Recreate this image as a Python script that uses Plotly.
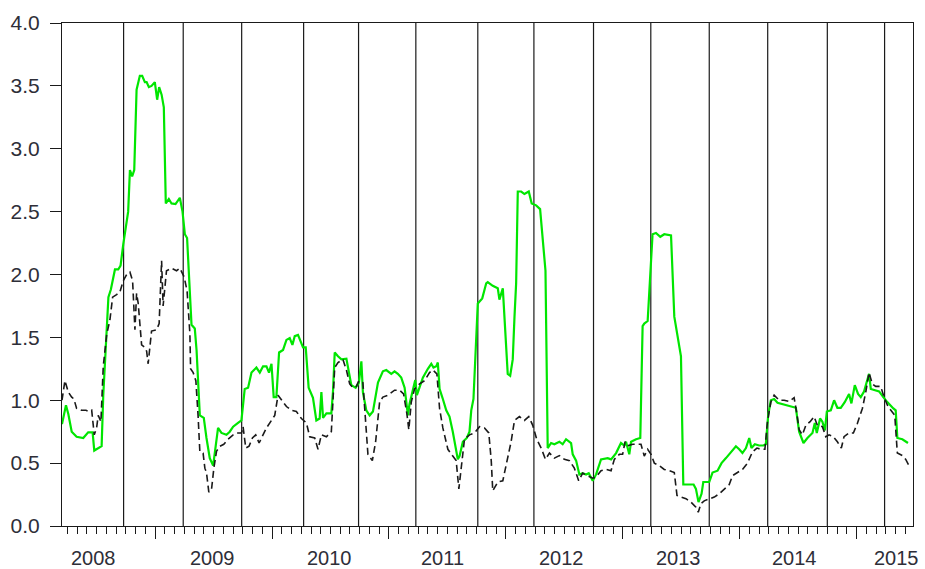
import plotly.graph_objects as go

# Time stamps (decimal years) and values of the two series
green_t = [2008.203, 2008.237, 2008.257, 2008.286, 2008.328, 2008.385, 2008.427, 2008.465, 2008.479, 2008.513,
           2008.542, 2008.556, 2008.570, 2008.587, 2008.600, 2008.621, 2008.656, 2008.684, 2008.704, 2008.727,
           2008.769, 2008.784, 2008.803, 2008.821, 2008.841, 2008.869, 2008.889, 2008.912, 2008.927, 2008.946,
           2008.969, 2008.997, 2009.017, 2009.034, 2009.055, 2009.074, 2009.091, 2009.117, 2009.140, 2009.174,
           2009.211, 2009.234, 2009.254, 2009.273, 2009.297, 2009.311, 2009.339, 2009.354, 2009.382, 2009.416,
           2009.439, 2009.467, 2009.496, 2009.519, 2009.538, 2009.567, 2009.610, 2009.638, 2009.667, 2009.709,
           2009.738, 2009.766, 2009.795, 2009.824, 2009.866, 2009.895, 2009.923, 2009.952, 2009.974, 2009.995,
           2010.014, 2010.037, 2010.060, 2010.094, 2010.123, 2010.151, 2010.174, 2010.194, 2010.222, 2010.265,
           2010.288, 2010.313, 2010.350, 2010.379, 2010.407, 2010.422, 2010.436, 2010.465, 2010.507, 2010.521,
           2010.536, 2010.564, 2010.593, 2010.636, 2010.658, 2010.678, 2010.715, 2010.743, 2010.764, 2010.777,
           2010.806, 2010.835, 2010.863, 2010.906, 2010.948, 2010.977, 2011.020, 2011.048, 2011.076, 2011.105,
           2011.134, 2011.162, 2011.176, 2011.205, 2011.225, 2011.239, 2011.262, 2011.290, 2011.333, 2011.362,
           2011.381, 2011.405, 2011.418, 2011.433, 2011.461, 2011.490, 2011.518, 2011.546, 2011.589, 2011.604,
           2011.632, 2011.666, 2011.689, 2011.704, 2011.723, 2011.746, 2011.760, 2011.798, 2011.832, 2011.845,
           2011.888, 2011.931, 2011.945, 2011.974, 2011.988, 2012.003, 2012.016, 2012.037, 2012.059, 2012.074,
           2012.088, 2012.102, 2012.131, 2012.159, 2012.196, 2012.221, 2012.259, 2012.293, 2012.315, 2012.339,
           2012.358, 2012.387, 2012.415, 2012.458, 2012.486, 2012.515, 2012.558, 2012.572, 2012.601, 2012.629,
           2012.657, 2012.686, 2012.709, 2012.743, 2012.772, 2012.814, 2012.871, 2012.900, 2012.943, 2012.985,
           2013.014, 2013.028, 2013.056, 2013.071, 2013.114, 2013.150, 2013.170, 2013.184, 2013.213, 2013.255,
           2013.284, 2013.321, 2013.355, 2013.413, 2013.441, 2013.469, 2013.498, 2013.518, 2013.569, 2013.606,
           2013.626, 2013.648, 2013.674, 2013.689, 2013.740, 2013.768, 2013.811, 2013.845, 2013.883, 2013.919,
           2013.968, 2013.996, 2014.024, 2014.054, 2014.082, 2014.101, 2014.130, 2014.167, 2014.204, 2014.224,
           2014.244, 2014.267, 2014.295, 2014.324, 2014.381, 2014.452, 2014.481, 2014.509, 2014.546, 2014.580,
           2014.623, 2014.643, 2014.660, 2014.688, 2014.708, 2014.729, 2014.746, 2014.780, 2014.808, 2014.836,
           2014.865, 2014.899, 2014.936, 2014.956, 2014.985, 2015.013, 2015.036, 2015.064, 2015.087, 2015.107,
           2015.122, 2015.164, 2015.193, 2015.229, 2015.263, 2015.315, 2015.335, 2015.349, 2015.392, 2015.440]

green_v = [0.81, 0.96, 0.89, 0.75, 0.71, 0.70, 0.745, 0.745, 0.60, 0.62,
           0.635, 1.04, 1.30, 1.62, 1.82, 1.88, 2.04, 2.04, 2.07, 2.24,
           2.50, 2.83, 2.78, 2.83, 3.47, 3.58, 3.58, 3.53, 3.53, 3.49,
           3.50, 3.53, 3.39, 3.49, 3.43, 3.33, 2.565, 2.60, 2.565, 2.56,
           2.61, 2.50, 2.32, 2.29, 1.87, 1.60, 1.57, 1.40, 0.88, 0.86,
           0.70, 0.54, 0.48, 0.65, 0.78, 0.74, 0.725, 0.75, 0.79, 0.82,
           0.84, 1.09, 1.10, 1.22, 1.26, 1.22, 1.27, 1.27, 1.22, 1.29,
           1.025, 1.025, 1.38, 1.40, 1.48, 1.495, 1.44, 1.51, 1.52, 1.42,
           1.42, 1.10, 1.02, 0.84, 0.855, 1.065, 0.86, 0.895, 0.895, 1.065,
           1.38, 1.35, 1.325, 1.33, 1.22, 1.12, 1.10, 1.14, 1.31, 1.065,
           0.92, 0.88, 0.91, 1.14, 1.23, 1.24, 1.21, 1.23, 1.21, 1.18,
           1.10, 0.88, 0.97, 1.09, 1.16, 1.04, 1.10, 1.18, 1.25, 1.29,
           1.26, 1.27, 1.30, 1.09, 1.01, 0.92, 0.87, 0.75, 0.53, 0.556,
           0.67, 0.70, 0.75, 0.92, 1.01, 1.53, 1.77, 1.81, 1.93, 1.94,
           1.91, 1.89, 1.80, 1.89, 1.665, 1.325, 1.21, 1.195, 1.325, 1.665,
           1.93, 2.66, 2.66, 2.64, 2.66, 2.565, 2.55, 2.52, 2.29, 2.03,
           0.62, 0.66, 0.65, 0.67, 0.65, 0.69, 0.66, 0.57, 0.52, 0.41,
           0.42, 0.41, 0.42, 0.36, 0.41, 0.53, 0.54, 0.53, 0.58, 0.66,
           0.64, 0.67, 0.57, 0.67, 0.69, 0.70, 1.59, 1.61, 1.63, 2.32,
           2.33, 2.30, 2.32, 2.31, 1.665, 1.51, 1.35, 0.33, 0.33, 0.33,
           0.295, 0.19, 0.256, 0.35, 0.35, 0.425, 0.44, 0.50, 0.54, 0.58,
           0.634, 0.61, 0.58, 0.62, 0.70, 0.62, 0.65, 0.64, 0.64, 0.65,
           0.88, 1.00, 1.01, 0.98, 0.965, 0.95, 0.94, 0.75, 0.66, 0.70,
           0.74, 0.82, 0.74, 0.855, 0.83, 0.76, 0.91, 0.92, 1.00, 0.94,
           0.94, 0.985, 1.05, 0.975, 1.12, 1.05, 1.025, 1.07, 1.155, 1.21,
           1.09, 1.08, 1.07, 1.025, 0.985, 0.935, 0.92, 0.70, 0.69, 0.66]

black_t = [2008.203, 2008.228, 2008.257, 2008.286, 2008.305, 2008.328, 2008.371, 2008.408, 2008.436, 2008.457,
           2008.479, 2008.499, 2008.513, 2008.536, 2008.556, 2008.585, 2008.613, 2008.636, 2008.670, 2008.698,
           2008.727, 2008.756, 2008.784, 2008.807, 2008.827, 2008.841, 2008.855, 2008.884, 2008.912, 2008.927,
           2008.940, 2008.969, 2009.012, 2009.034, 2009.055, 2009.068, 2009.097, 2009.140, 2009.183, 2009.211,
           2009.248, 2009.273, 2009.297, 2009.303, 2009.325, 2009.348, 2009.367, 2009.382, 2009.410, 2009.425,
           2009.439, 2009.459, 2009.482, 2009.502, 2009.525, 2009.553, 2009.587, 2009.624, 2009.667, 2009.701,
           2009.738, 2009.752, 2009.775, 2009.803, 2009.832, 2009.860, 2009.889, 2009.923, 2009.952, 2009.995,
           2010.023, 2010.051, 2010.080, 2010.123, 2010.166, 2010.208, 2010.251, 2010.294, 2010.322, 2010.365,
           2010.393, 2010.422, 2010.465, 2010.507, 2010.536, 2010.564, 2010.606, 2010.636, 2010.664, 2010.692,
           2010.721, 2010.743, 2010.777, 2010.792, 2010.820, 2010.858, 2010.886, 2010.920, 2010.948, 2010.991,
           2011.048, 2011.091, 2011.125, 2011.153, 2011.170, 2011.191, 2011.219, 2011.262, 2011.305, 2011.347,
           2011.376, 2011.410, 2011.433, 2011.461, 2011.504, 2011.546, 2011.575, 2011.598, 2011.618, 2011.646,
           2011.689, 2011.732, 2011.775, 2011.817, 2011.854, 2011.875, 2011.888, 2011.931, 2011.974, 2012.016,
           2012.045, 2012.074, 2012.116, 2012.159, 2012.196, 2012.230, 2012.264, 2012.302, 2012.339, 2012.373,
           2012.415, 2012.458, 2012.501, 2012.544, 2012.586, 2012.623, 2012.657, 2012.700, 2012.743, 2012.772,
           2012.814, 2012.857, 2012.900, 2012.928, 2012.971, 2012.999, 2013.020, 2013.048, 2013.085, 2013.127,
           2013.156, 2013.184, 2013.213, 2013.242, 2013.270, 2013.313, 2013.355, 2013.398, 2013.441, 2013.464,
           2013.498, 2013.541, 2013.584, 2013.626, 2013.646, 2013.669, 2013.697, 2013.740, 2013.783, 2013.825,
           2013.868, 2013.911, 2013.939, 2013.982, 2014.024, 2014.067, 2014.110, 2014.148, 2014.182, 2014.216,
           2014.238, 2014.267, 2014.295, 2014.338, 2014.381, 2014.424, 2014.466, 2014.489, 2014.509, 2014.537,
           2014.566, 2014.603, 2014.637, 2014.665, 2014.708, 2014.737, 2014.765, 2014.802, 2014.836, 2014.870,
           2014.893, 2014.936, 2014.973, 2015.007, 2015.050, 2015.079, 2015.107, 2015.135, 2015.164, 2015.207,
           2015.235, 2015.269, 2015.298, 2015.327, 2015.349, 2015.392, 2015.421, 2015.449]

black_v = [1.00, 1.156, 1.065, 1.025, 1.01, 0.935, 0.92, 0.92, 0.91, 0.92,
           0.725, 0.78, 0.88, 0.83, 1.27, 1.52, 1.64, 1.82, 1.84, 1.86,
           1.95, 2.00, 2.02, 1.95, 1.56, 1.85, 1.77, 1.44, 1.42, 1.39,
           1.29, 1.55, 1.56, 1.61, 2.11, 1.75, 2.03, 2.05, 2.03, 2.05,
           1.98, 1.87, 1.53, 1.25, 1.22, 1.156, 0.88, 0.595, 0.58, 0.46,
           0.425, 0.27, 0.29, 0.46, 0.595, 0.634, 0.65, 0.69, 0.725, 0.74,
           0.74, 0.79, 0.62, 0.634, 0.70, 0.725, 0.66, 0.725, 0.78, 0.84,
           0.88, 1.04, 1.00, 0.95, 0.92, 0.91, 0.855, 0.82, 0.71, 0.70,
           0.61, 0.725, 0.71, 0.75, 1.26, 1.30, 1.325, 1.24, 1.13, 1.10,
           1.11, 1.156, 1.14, 0.96, 0.57, 0.52, 0.67, 0.986, 1.025, 1.04,
           1.08, 1.08, 1.05, 0.895, 0.765, 0.986, 1.09, 1.13, 1.156, 1.22,
           1.24, 1.21, 0.935, 0.78, 0.61, 0.556, 0.52, 0.295, 0.46, 0.69,
           0.725, 0.74, 0.79, 0.78, 0.74, 0.52, 0.28, 0.35, 0.36, 0.54,
           0.67, 0.84, 0.87, 0.84, 0.87, 0.80, 0.69, 0.62, 0.53, 0.58,
           0.54, 0.56, 0.53, 0.52, 0.46, 0.36, 0.42, 0.40, 0.38, 0.39,
           0.44, 0.45, 0.44, 0.53, 0.57, 0.57, 0.67, 0.64, 0.65, 0.65,
           0.65, 0.556, 0.61, 0.57, 0.50, 0.48, 0.45, 0.44, 0.425, 0.243,
           0.23, 0.217, 0.19, 0.15, 0.11, 0.178, 0.20, 0.217, 0.23, 0.256,
           0.295, 0.33, 0.40, 0.425, 0.45, 0.50, 0.59, 0.62, 0.61, 0.61,
           0.83, 0.986, 1.04, 1.00, 1.00, 0.99, 1.02, 0.895, 0.765, 0.725,
           0.80, 0.83, 0.87, 0.80, 0.79, 0.71, 0.725, 0.71, 0.67, 0.62,
           0.71, 0.74, 0.74, 0.815, 0.935, 1.065, 1.22, 1.13, 1.11, 1.11,
           1.025, 0.95, 0.91, 0.88, 0.58, 0.56, 0.53, 0.48]

# Half-year break dates marked by vertical lines
event_t = [2008.73, 2009.24, 2009.74, 2010.27, 2010.74, 2011.23, 2011.76,
           2012.24, 2012.75, 2013.24, 2013.74, 2014.24, 2014.75, 2015.24]

# Axis extent, year ticks and year labels
x_range = [2008.203, 2015.483]
year_ticks = [2009, 2010, 2011, 2012, 2013, 2014, 2015]
year_labels = ["2008", "2009", "2010", "2011", "2012", "2013", "2014", "2015"]
year_label_pos = [2008.475, 2009.49, 2010.49, 2011.46, 2012.475, 2013.475, 2014.47, 2015.34]
y_ticks = [0.0, 0.5, 1.0, 1.5, 2.0, 2.5, 3.0, 3.5, 4.0]

assert len(green_t) == len(green_v), (len(green_t), len(green_v))
assert len(black_t) == len(black_v), (len(black_t), len(black_v))

FONT = "Liberation Sans, Arial, sans-serif"
TEXT_COLOR = "#2e2e38"

fig = go.Figure()
fig.add_trace(go.Scatter(x=green_t, y=green_v, mode="lines",
                         line=dict(color="#00e600", width=2.2), hoverinfo="skip"))
fig.add_trace(go.Scatter(x=black_t, y=black_v, mode="lines",
                         line=dict(color="#1a1a1a", width=1.6, dash="7px,4px"), hoverinfo="skip"))

for t in event_t:
    fig.add_shape(type="line", x0=t, x1=t, xref="x", y0=0, y1=1, yref="paper",
                  line=dict(color="#1a1a1a", width=1.2), layer="below")

for lbl, pos in zip(year_labels, year_label_pos):
    fig.add_annotation(x=pos, xref="x", y=0, yref="paper", yanchor="top", yshift=-19,
                       text=lbl, showarrow=False,
                       font=dict(family=FONT, size=20, color=TEXT_COLOR))

fig.update_layout(
    width=925, height=569,
    margin=dict(l=62, r=11, t=15, b=43),
    paper_bgcolor="white", plot_bgcolor="white",
    showlegend=False,
    font=dict(family=FONT, size=20, color=TEXT_COLOR),
    xaxis=dict(
        range=x_range, showgrid=False, zeroline=False,
        showline=True, linecolor="#1a1a1a", linewidth=1, mirror=True,
        tickmode="array", tickvals=year_ticks, showticklabels=False,
        ticks="outside", ticklen=12, tickwidth=1, tickcolor="#1a1a1a",
        minor=dict(ticks="outside", ticklen=7, tickwidth=1, tickcolor="#1a1a1a",
                   tick0=2008, dtick=1 / 12, showgrid=False),
    ),
    yaxis=dict(
        range=[0, 4], showgrid=False, zeroline=False,
        showline=True, linecolor="#1a1a1a", linewidth=1, mirror=True,
        tickmode="array", tickvals=y_ticks, ticktext=[f"{v:.1f}" for v in y_ticks],
        ticks="outside", ticklen=11, tickwidth=1, tickcolor="#1a1a1a",
        ticklabelstandoff=6,
        tickfont=dict(family=FONT, size=21, color=TEXT_COLOR),
    ),
)

fig.write_html("out.html")
